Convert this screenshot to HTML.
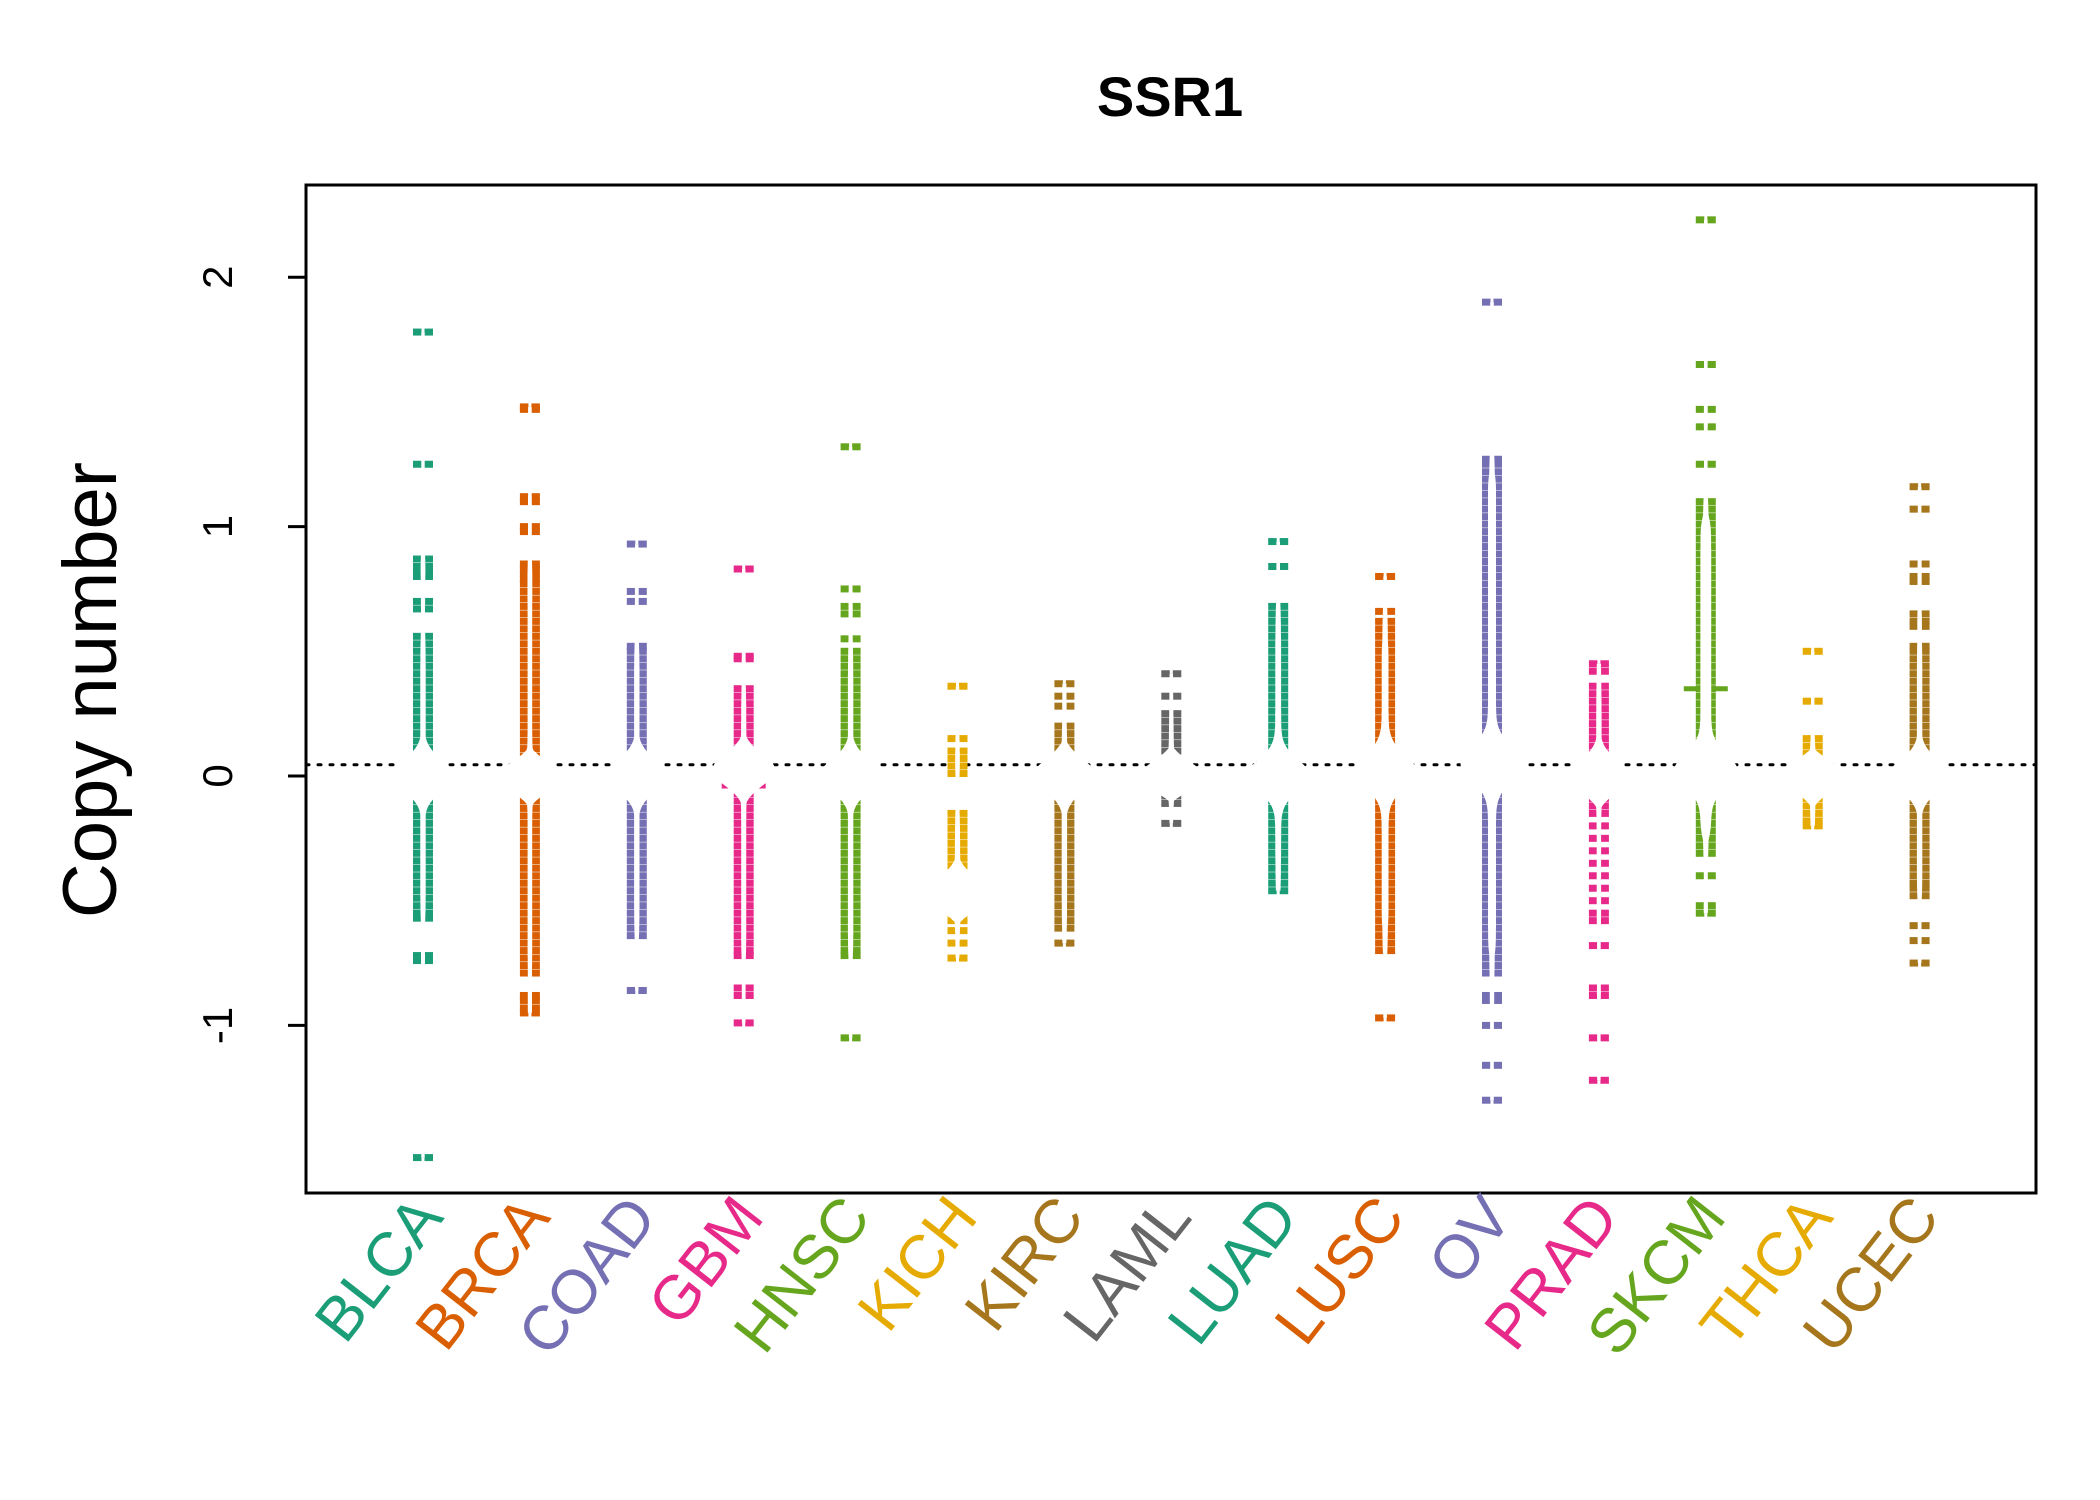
<!DOCTYPE html>
<html><head><meta charset="utf-8"><style>
html,body{margin:0;padding:0;background:#fff;}
svg{display:block;font-family:"Liberation Sans",sans-serif;}
</style></head><body>
<svg id="chart" width="2100" height="1500" viewBox="0 0 2100 1500" xmlns="http://www.w3.org/2000/svg">
<text x="1170" y="116" font-size="56" font-weight="bold" text-anchor="middle">SSR1</text>
<text transform="translate(116,690) rotate(-90)" font-size="76" text-anchor="middle">Copy number</text>
<g id="marks"></g>
<rect x="306" y="185" width="1730" height="1008" fill="none" stroke="#000" stroke-width="3"/>
<g id="axes"></g>
</svg>
<script>
const categories=["BLCA","BRCA","COAD","GBM","HNSC","KICH","KIRC","LAML","LUAD","LUSC","OV","PRAD","SKCM","THCA","UCEC"];
const colors=["#1B9E77","#D95F02","#7570B3","#E7298A","#66A61E","#E6AB02","#A6761D","#666666","#1B9E77","#D95F02","#7570B3","#E7298A","#66A61E","#E6AB02","#A6761D"];
const yTicks=[-1,0,1,2];
const yTickLabels=["-1","0","1","2"];
const refLine=0.045;
const vBLCA=[1.78,1.25,0.87,0.84,0.82,0.8,0.7,0.67,0.56,0.53,0.5,0.47,0.44,0.41,0.38,0.35,0.32,0.29,0.26,0.23,0.2,0.17,0.14,0.11,0.08,0.05,0.02,0.01,0,0,0,0,0,-0.01,-0.02,0.03,-0.04,-0.07,-0.1,-0.13,-0.16,-0.19,-0.22,-0.25,-0.28,-0.31,-0.34,-0.37,-0.4,-0.43,-0.46,-0.49,-0.52,-0.55,-0.57,-0.72,-0.74,-1.53];
const vBRCA=[1.48,1.47,1.12,1.1,1.0,0.98,0.85,0.83,0.81,0.79,0.77,0.74,0.71,0.68,0.65,0.62,0.59,0.56,0.53,0.5,0.47,0.44,0.41,0.38,0.35,0.32,0.29,0.26,0.23,0.2,0.17,0.14,0.11,0.08,0.05,0.02,0.01,0,0,0,0,0,0,0,0,-0.01,-0.02,-0.03,-0.03,0.03,-0.01,-0.04,-0.07,-0.1,-0.13,-0.16,-0.19,-0.22,-0.25,-0.28,-0.31,-0.34,-0.37,-0.4,-0.43,-0.46,-0.49,-0.52,-0.55,-0.58,-0.61,-0.64,-0.67,-0.7,-0.73,-0.76,-0.79,-0.88,-0.9,-0.93,-0.95];
const vCOAD=[0.93,0.74,0.7,0.52,0.5,0.47,0.44,0.41,0.38,0.35,0.32,0.29,0.26,0.23,0.2,0.17,0.14,0.11,0.08,0.05,0.02,0.01,0,0,0,0,0,-0.01,-0.02,0.03,-0.04,-0.07,-0.1,-0.13,-0.16,-0.19,-0.22,-0.25,-0.28,-0.31,-0.34,-0.37,-0.4,-0.43,-0.46,-0.49,-0.52,-0.55,-0.58,-0.61,-0.64,-0.86];
const vGBM=[0.83,0.48,0.47,0.35,0.32,0.29,0.26,0.23,0.2,0.17,0.14,0.11,0.08,0.05,0.04,0.03,0.02,0.02,0.01,0,0,0.01,0.03,0.05,0.06,-0.01,-0.04,-0.07,-0.1,-0.13,-0.16,-0.19,-0.22,-0.25,-0.28,-0.31,-0.34,-0.37,-0.4,-0.43,-0.46,-0.49,-0.52,-0.55,-0.58,-0.61,-0.64,-0.67,-0.7,-0.72,-0.85,-0.88,-0.99];
const vHNSC=[1.32,0.75,0.68,0.65,0.55,0.5,0.47,0.44,0.41,0.38,0.35,0.32,0.29,0.26,0.23,0.2,0.17,0.14,0.11,0.08,0.05,0.02,0.01,0,0,0,0,0,-0.01,-0.02,0.03,-0.04,-0.07,-0.1,-0.13,-0.16,-0.19,-0.22,-0.25,-0.28,-0.31,-0.34,-0.37,-0.4,-0.43,-0.46,-0.49,-0.52,-0.55,-0.58,-0.61,-0.64,-0.67,-0.7,-0.72,-1.05];
const vKICH=[0.36,0.15,0.1,0.07,0.04,0.01,-0.15,-0.18,-0.21,-0.24,-0.27,-0.3,-0.33,-0.36,-0.39,-0.42,-0.44,-0.45,-0.45,-0.46,-0.46,-0.47,-0.47,-0.48,-0.48,-0.49,-0.5,-0.51,-0.52,-0.55,-0.58,-0.62,-0.67,-0.73];
const vKIRC=[0.37,0.32,0.28,0.2,0.17,0.14,0.11,0.08,0.05,0.02,0.01,0,0,0,0,0,-0.01,-0.02,0.03,-0.04,-0.07,-0.1,-0.13,-0.16,-0.19,-0.22,-0.25,-0.28,-0.31,-0.34,-0.37,-0.4,-0.43,-0.46,-0.49,-0.52,-0.55,-0.58,-0.61,-0.67];
const vLAML=[0.41,0.32,0.25,0.22,0.19,0.16,0.13,0.1,0.07,0.04,0.02,0.01,0,0,0,0,0,0,0,-0.01,-0.01,-0.02,-0.02,-0.03,0.03,-0.05,-0.08,-0.11,-0.19];
const vLUAD=[0.94,0.84,0.68,0.65,0.62,0.59,0.56,0.53,0.5,0.47,0.44,0.41,0.38,0.35,0.32,0.29,0.26,0.23,0.2,0.17,0.14,0.11,0.08,0.05,0.02,0.01,0,0,0,0,0.03,-0.01,-0.02,-0.04,-0.07,-0.1,-0.13,-0.16,-0.19,-0.22,-0.25,-0.28,-0.31,-0.34,-0.37,-0.4,-0.43,-0.46];
const vLUSC=[0.8,0.66,0.62,0.59,0.56,0.53,0.5,0.47,0.44,0.41,0.38,0.35,0.32,0.29,0.26,0.23,0.2,0.17,0.14,0.11,0.08,0.05,0.06,0.04,0.03,0.02,0.01,0,0,0,-0.01,-0.04,-0.07,-0.1,-0.13,-0.16,-0.19,-0.22,-0.25,-0.28,-0.31,-0.34,-0.37,-0.4,-0.43,-0.46,-0.49,-0.52,-0.55,-0.58,-0.61,-0.64,-0.67,-0.7,-0.97];
const vOV=[1.9,1.27,1.25,1.22,1.19,1.16,1.13,1.1,1.07,1.04,1.01,0.98,0.95,0.92,0.89,0.86,0.83,0.8,0.77,0.74,0.71,0.68,0.65,0.62,0.59,0.56,0.53,0.5,0.47,0.44,0.41,0.38,0.35,0.32,0.29,0.26,0.23,0.2,0.17,0.14,0.11,0.1,0.08,0.07,0.06,0.05,0.05,0.04,0.03,0.02,0,-0.01,-0.04,-0.07,-0.1,-0.13,-0.16,-0.19,-0.22,-0.25,-0.28,-0.31,-0.34,-0.37,-0.4,-0.43,-0.46,-0.49,-0.52,-0.55,-0.58,-0.61,-0.64,-0.67,-0.7,-0.73,-0.76,-0.79,-0.88,-0.9,-1.0,-1.16,-1.3];
const vPRAD=[0.45,0.42,0.36,0.33,0.3,0.27,0.24,0.21,0.18,0.15,0.12,0.09,0.06,0.03,0.02,0.01,0,0,0,0,0,-0.01,-0.02,-0.03,-0.06,-0.09,-0.12,-0.15,-0.2,-0.25,-0.3,-0.35,-0.4,-0.45,-0.5,-0.55,-0.58,-0.68,-0.85,-0.88,-1.05,-1.22];
const vSKCM=[2.23,1.65,1.47,1.4,1.25,1.1,1.07,1.04,1.01,0.98,0.95,0.92,0.89,0.86,0.83,0.8,0.77,0.74,0.71,0.68,0.65,0.62,0.59,0.56,0.53,0.5,0.47,0.44,0.41,0.38,0.35,0.32,0.29,0.26,0.23,0.2,0.17,0.14,0.11,0.08,0.06,0.05,0.04,0.03,0.02,0.01,0,0,-0.01,-0.04,-0.07,-0.1,-0.13,-0.16,-0.19,-0.22,-0.25,-0.28,-0.31,-0.4,-0.52,-0.55];
const vTHCA=[0.5,0.3,0.15,0.12,0.09,0.06,0.03,0.02,0.01,0,0,0,0,0,0,0,-0.01,-0.01,-0.02,-0.03,-0.06,-0.09,-0.12,-0.15,-0.18,-0.2];
const vUCEC=[1.16,1.07,0.85,0.8,0.78,0.65,0.62,0.6,0.52,0.5,0.47,0.44,0.41,0.38,0.35,0.32,0.29,0.26,0.23,0.2,0.17,0.14,0.11,0.08,0.05,0.02,0.01,0,0,0,0,0,-0.01,-0.02,0.03,-0.04,-0.07,-0.1,-0.13,-0.16,-0.19,-0.22,-0.25,-0.28,-0.31,-0.34,-0.37,-0.4,-0.43,-0.45,-0.48,-0.6,-0.66,-0.75];
const seriesValues=[vBLCA,vBRCA,vCOAD,vGBM,vHNSC,vKICH,vKIRC,vLAML,vLUAD,vLUSC,vOV,vPRAD,vSKCM,vTHCA,vUCEC];

const NS="http://www.w3.org/2000/svg";
const xScale=i=>423+106.9*i;
const yScale=v=>776-249.4*v;
const marks=document.getElementById('marks');
const axes=document.getElementById('axes');
function mk(tag,attrs,parent){const e=document.createElementNS(NS,tag);for(const k in attrs)e.setAttribute(k,attrs[k]);parent.appendChild(e);return e;}

const rl=mk('line',{x1:306,x2:2036,y1:yScale(refLine),y2:yScale(refLine),stroke:'#000','stroke-width':3,'stroke-dasharray':'3,9','stroke-linecap':'round'},marks);



seriesValues.forEach((vals,i)=>{
  const g=mk('g',{},marks);
  
  
  const cx=xScale(i),col=colors[i];
  const lo=Math.min(...vals),hi=Math.max(...vals);
  const vl=mk('line',{x1:cx,x2:cx,y1:yScale(hi),y2:yScale(lo),stroke:col,'stroke-width':2},g);
  
  
  const s=vals.slice().sort((a,b)=>a-b);
  const med=s[Math.floor(s.length/2)];
  const ml=mk('line',{x1:cx-22,x2:cx+22,y1:yScale(med),y2:yScale(med),stroke:col,'stroke-width':5},g);
  
  
  vals.forEach(v=>{
    const y=yScale(v);
    const l=mk('line',{x1:cx-10,x2:cx-1.5,y1:y,y2:y,stroke:col,'stroke-width':7},g);
    
    
    const r=mk('line',{x1:cx+1.5,x2:cx+10,y1:y,y2:y,stroke:col,'stroke-width':7},g);
    
    
  });
  const bw=0.06,n=vals.length;
  const pts=[];let dmax=0;
  for(let k=0;k<=240;k++){
    const y=lo+(hi-lo)*k/240;
    let d=0;vals.forEach(v=>{const z=(y-v)/bw;d+=Math.exp(-0.5*z*z);});
    d/=n*bw*Math.sqrt(2*Math.PI);
    if(d>dmax)dmax=d;
    pts.push([y,d]);
  }
  const hw=d=>{const r=d/dmax;return 1.5+3*r+27*Math.max(0,(r-0.42)/0.58);};
  const right=pts.map(p=>[cx+hw(p[1]),yScale(p[0])]);
  const left=pts.slice().reverse().map(p=>[cx-hw(p[1]),yScale(p[0])]);
  const poly=mk('polygon',{points:right.concat(left).map(p=>p[0].toFixed(1)+','+p[1].toFixed(1)).join(' '),fill:'#fff',stroke:'none'},g);
  
  
});

yTicks.forEach((t,k)=>{
  const y=yScale(t);
  const tl=mk('line',{x1:288,x2:306,y1:y,y2:y,stroke:'#000','stroke-width':3},axes);
  
  
  const tx=mk('text',{transform:'translate(232,'+y+') rotate(-90)','font-size':42,'text-anchor':'middle'},axes);
  tx.textContent=yTickLabels[k];
  
  
});
categories.forEach((c,i)=>{
  const t=mk('text',{transform:'translate('+(xScale(i)+22)+',1218) rotate(-52)','font-size':62,'text-anchor':'end',fill:colors[i]},axes);
  t.textContent=c;
  
  
});
</script>
</body></html>
